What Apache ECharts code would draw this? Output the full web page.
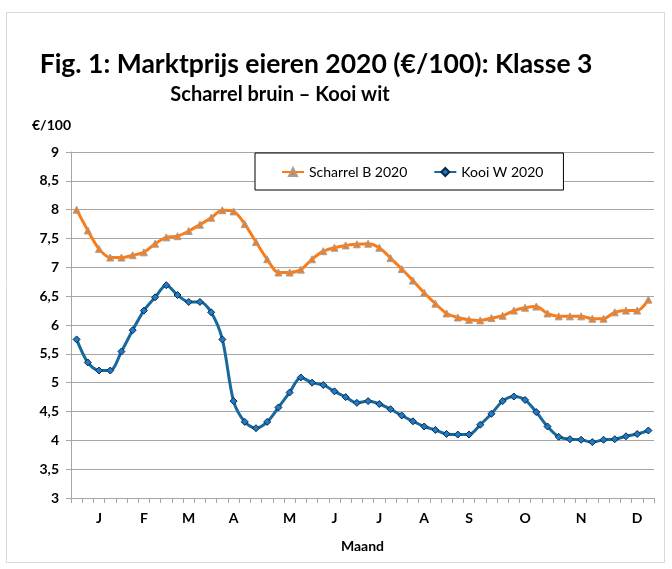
<html>
<head>
  <meta charset="utf-8">
  <title>Marktprijs eieren 2020</title>
  <script src="https://cdn.jsdelivr.net/npm/echarts@6/dist/echarts.min.js"></script>
</head>
<body style="margin:0;background:#fff;">
<div id="main" style="width:672px;height:569px;"></div>
<script>
  // weekly prices 2020, 52 weeks
  var weeks = ['', '', 'J', '', '', '', 'F', '', '', '', 'M', '', '', '', 'A', '', '', '', '', 'M',
    '', '', '', 'J', '', '', '', 'J', '', '', '', 'A', '', '', '', 'S', '', '', '', '',
    'O', '', '', '', '', 'N', '', '', '', '', 'D', ''];

  var scharrelB = [8.00, 7.64, 7.32, 7.17, 7.17, 7.21, 7.26, 7.41, 7.52, 7.54,
    7.63, 7.74, 7.86, 7.99, 7.97, 7.75, 7.44, 7.14, 6.91, 6.91,
    6.96, 7.14, 7.28, 7.34, 7.38, 7.40, 7.41, 7.34, 7.16, 6.97,
    6.77, 6.56, 6.37, 6.20, 6.13, 6.09, 6.08, 6.12, 6.16, 6.25,
    6.30, 6.32, 6.20, 6.15, 6.15, 6.15, 6.11, 6.11, 6.22, 6.25,
    6.25, 6.44];

  var kooiW = [5.75, 5.35, 5.21, 5.21, 5.54, 5.91, 6.25, 6.48, 6.69, 6.52,
    6.40, 6.40, 6.22, 5.75, 4.68, 4.32, 4.21, 4.32, 4.57, 4.83,
    5.09, 5.00, 4.96, 4.85, 4.75, 4.65, 4.68, 4.63, 4.54, 4.43,
    4.33, 4.24, 4.18, 4.11, 4.10, 4.10, 4.27, 4.46, 4.68, 4.76,
    4.70, 4.49, 4.24, 4.06, 4.02, 4.01, 3.97, 4.01, 4.02, 4.07,
    4.11, 4.17];

  var font = 'Lato, "Noto Sans", sans-serif';
  var myChart = echarts.init(document.getElementById('main'));

  option = {
    backgroundColor: '#fff',
    animation: false,
    textStyle: { fontFamily: font },
    title: [
      {
        text: 'Fig. 1: Marktprijs eieren 2020 (€/100): Klasse 3',
        left: 311, top: 46, textAlign: 'center',
        textStyle: { fontSize: 26.5, fontWeight: 'bold', color: '#000', fontFamily: font }
      },
      {
        text: 'Scharrel bruin – Kooi wit',
        left: 275, top: 80, textAlign: 'center',
        textStyle: { fontSize: 20, fontWeight: 'bold', color: '#000', fontFamily: font }
      }
    ],
    graphic: [
      {
        type: 'rect', z: -1, silent: true,
        shape: { x: 6.5, y: 12.5, width: 658, height: 550 },
        style: { fill: '#fff', stroke: '#d9d9d9', lineWidth: 1 }
      }
    ],
    legend: {
      left: 255, top: 153, width: 293, height: 40,
      padding: [12, 20, 11, 26],
      itemGap: 26,
      itemWidth: 22, itemHeight: 10,
      backgroundColor: '#fff',
      borderColor: '#000', borderWidth: 1,
      textStyle: { fontSize: 14, color: '#000', fontFamily: font }
    },
    grid: { left: 71, right: 18, top: 152, bottom: 71 },
    xAxis: {
      type: 'category',
      data: weeks,
      boundaryGap: true,
      name: 'Maand',
      nameLocation: 'middle',
      nameGap: 41,
      nameTextStyle: { fontWeight: 'bold', fontSize: 14, color: '#000' },
      axisLine: { lineStyle: { color: '#a6a6a6' } },
      axisTick: { show: true, interval: 0, length: 5, lineStyle: { color: '#a6a6a6' } },
      axisLabel: { interval: 0, margin: 13, fontWeight: 'bold', fontSize: 14, color: '#000' },
      splitLine: { show: false }
    },
    yAxis: {
      type: 'value',
      min: 3, max: 9, interval: 0.5,
      name: '€/100',
      nameLocation: 'end',
      nameGap: 20,
      nameTextStyle: { fontWeight: 'bold', fontSize: 14, color: '#000', align: 'right', padding: [0, 0, 0, 0] },
      axisLine: { show: true, lineStyle: { color: '#a6a6a6' } },
      axisTick: { show: true, length: 5, inside: false, lineStyle: { color: '#a6a6a6' } },
      axisLabel: {
        margin: 12, fontWeight: 'bold', fontSize: 14, color: '#000',
        formatter: function (v) { return String(v).replace('.', ','); }
      },
      splitLine: { lineStyle: { color: '#a6a6a6' } }
    },
    series: [
      {
        name: 'Scharrel B 2020',
        type: 'line',
        data: scharrelB,
        smooth: 0.3,
        symbol: 'triangle',
        symbolSize: 7,
        lineStyle: { color: '#ff7a10', width: 3 },
        itemStyle: { color: '#ff7a10', borderColor: '#a0a0a0', borderWidth: 1 }
      },
      {
        name: 'Kooi W 2020',
        type: 'line',
        data: kooiW,
        smooth: 0.3,
        symbol: 'diamond',
        symbolSize: 7,
        lineStyle: { color: '#17689c', width: 3 },
        itemStyle: { color: '#1f7ac8', borderColor: '#0b2a45', borderWidth: 1 }
      }
    ]
  };

  myChart.setOption(option);
</script>
</body>
</html>
